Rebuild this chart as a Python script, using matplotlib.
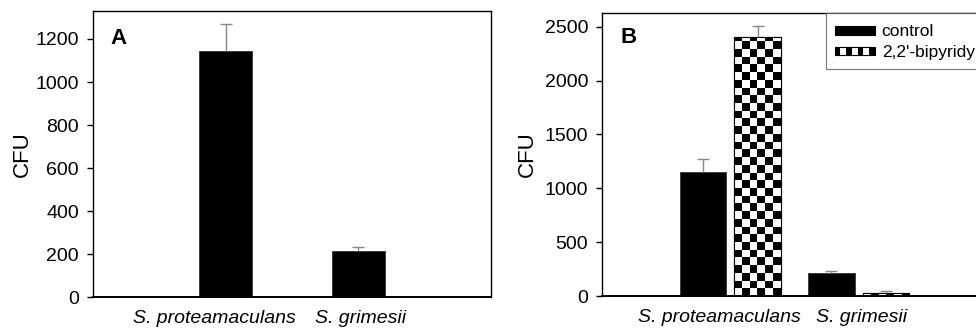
import numpy as np
import matplotlib
matplotlib.use("Agg")
import matplotlib.pyplot as plt
from matplotlib.patches import Rectangle, Patch
from matplotlib.legend_handler import HandlerBase

plt.rcParams['font.family'] = ['Liberation Sans', 'DejaVu Sans']

# data
strains = ["S. proteamaculans", "S. grimesii"]
cfu_a = [1145, 214]
err_a = [125, 18]
cfu_control = [1148, 216]
err_control = [120, 19]
cfu_bipy = [2408, 31]
err_bipy = [100, 13]
series_names = ["control", "2,2'-bipyridyl"]

# category labels sit a little off the bar centres in the original
label_pos = [-0.085, 1.02]


class KeyHandler(HandlerBase):
    # legend key: thin box, either solid black or with a row of black squares
    def __init__(self, checker=False):
        super().__init__()
        self.checker = checker

    def create_artists(self, legend, orig_handle, xdescent, ydescent,
                       width, height, fontsize, trans):
        h = 0.48 * fontsize
        y = -ydescent + (height - h) / 2
        x = -xdescent
        if not self.checker:
            return [Rectangle((x, y), width, h, facecolor='black',
                              edgecolor='black', lw=0.8, transform=trans)]
        n = 7
        cw = width / n
        arts = [Rectangle((x, y), width, h, facecolor='white',
                          edgecolor='black', lw=0.8, transform=trans)]
        for i in range(0, n, 2):
            arts.append(Rectangle((x + i * cw, y), cw, h, facecolor='black',
                                  edgecolor='none', transform=trans))
        return arts


def checker_fill(ax, bars, cell_px, ncols=6):
    # fill each bar with a checkerboard image, clipped to the bar
    fig = ax.figure
    y0, y1 = ax.get_ylim()
    ax_h = ax.get_position().height * fig.get_figheight() * fig.dpi
    cell_h = cell_px * (y1 - y0) / ax_h
    for rect in bars:
        x, w, h = rect.get_x(), rect.get_width(), rect.get_height()
        nrows = int(np.ceil(h / cell_h)) + 1
        ii, jj = np.indices((nrows, ncols))
        board = ((ii + jj) % 2).astype(float)
        im = ax.imshow(board, extent=(x, x + w, 0, nrows * cell_h), origin='lower',
                       cmap='gray_r', vmin=0, vmax=1, interpolation='nearest',
                       aspect='auto', zorder=2.5)
        im.set_clip_path(rect)


def upper_errors(ax, xs, vals, errs):
    eb = ax.errorbar(xs, vals, yerr=[np.zeros(len(xs)), errs], fmt='none',
                     ecolor='#888888', elinewidth=1, capsize=4.3, zorder=3)
    eb[1][0].set_visible(False)
    eb[1][1].set_color('#333333')


def style_axes(ax, ymax, yticks):
    ax.set_ylim(0, ymax)
    ax.set_xlim(-1, 2)
    ax.set_yticks(yticks)
    ax.set_xticks(label_pos)
    ax.set_xticklabels(strains, style='italic')
    ax.tick_params(axis='x', length=0, pad=9, labelsize=14)
    ax.tick_params(axis='y', direction='out', length=4, width=1, pad=6, labelsize=14)
    for s in ax.spines.values():
        s.set_linewidth(1.0)
    ax.spines['bottom'].set_linewidth(1.4)
    ax.set_ylabel("CFU", fontsize=16)


fig = plt.figure(figsize=(9.76, 3.31), dpi=100)
x = np.arange(len(strains))

# panel A
ax1 = fig.add_axes([0.0953, 0.1018, 0.4077, 0.865])
ax1.bar(x, cfu_a, width=0.4, color='black', edgecolor='#333333', lw=0.6, zorder=2)
upper_errors(ax1, x, cfu_a, err_a)
style_axes(ax1, 1330, [0, 200, 400, 600, 800, 1000, 1200])
ax1.yaxis.set_label_coords(-0.150, 0.5)
ax1.text(0.043, 0.885, "A", transform=ax1.transAxes, fontsize=16, fontweight='bold')

# panel B (runs off the right edge like the original)
ax2 = fig.add_axes([0.6168, 0.1057, 0.3945, 0.8559])
off = 0.212
bw = 0.36
ax2.bar(x - off, cfu_control, width=bw, color='black', edgecolor='#333333', lw=0.6, zorder=2)
bars_b = ax2.bar(x + off, cfu_bipy, width=bw, color='white', edgecolor='black', lw=0.8, zorder=2)
upper_errors(ax2, x - off, cfu_control, err_control)
upper_errors(ax2, x + off, cfu_bipy, err_bipy)
style_axes(ax2, 2630, [0, 500, 1000, 1500, 2000, 2500])
checker_fill(ax2, bars_b, 7.7)
for rect in bars_b:
    ax2.add_patch(Rectangle((rect.get_x(), 0), rect.get_width(), rect.get_height(),
                            facecolor='none', edgecolor='black', lw=0.8, zorder=2.8))
ax2.set_xlim(-1, 2)
ax2.set_ylim(0, 2630)
ax2.yaxis.set_label_coords(-0.166, 0.5)
ax2.text(0.047, 0.894, "B", transform=ax2.transAxes, fontsize=16, fontweight='bold')

h_control = Patch(facecolor='black')
h_bipy = Patch(facecolor='white')
leg = ax2.legend([h_control, h_bipy], series_names, loc='upper left',
                 bbox_to_anchor=(0.582, 1.0), borderaxespad=0, fontsize=12.5,
                 handlelength=2.3, handleheight=1.25, handletextpad=0.4,
                 borderpad=0.5, labelspacing=0.12, fancybox=False,
                 handler_map={h_control: KeyHandler(), h_bipy: KeyHandler(True)})
leg.get_frame().set_edgecolor('#555555')
leg.get_frame().set_linewidth(0.8)

fig.savefig("out.png", dpi=100)
